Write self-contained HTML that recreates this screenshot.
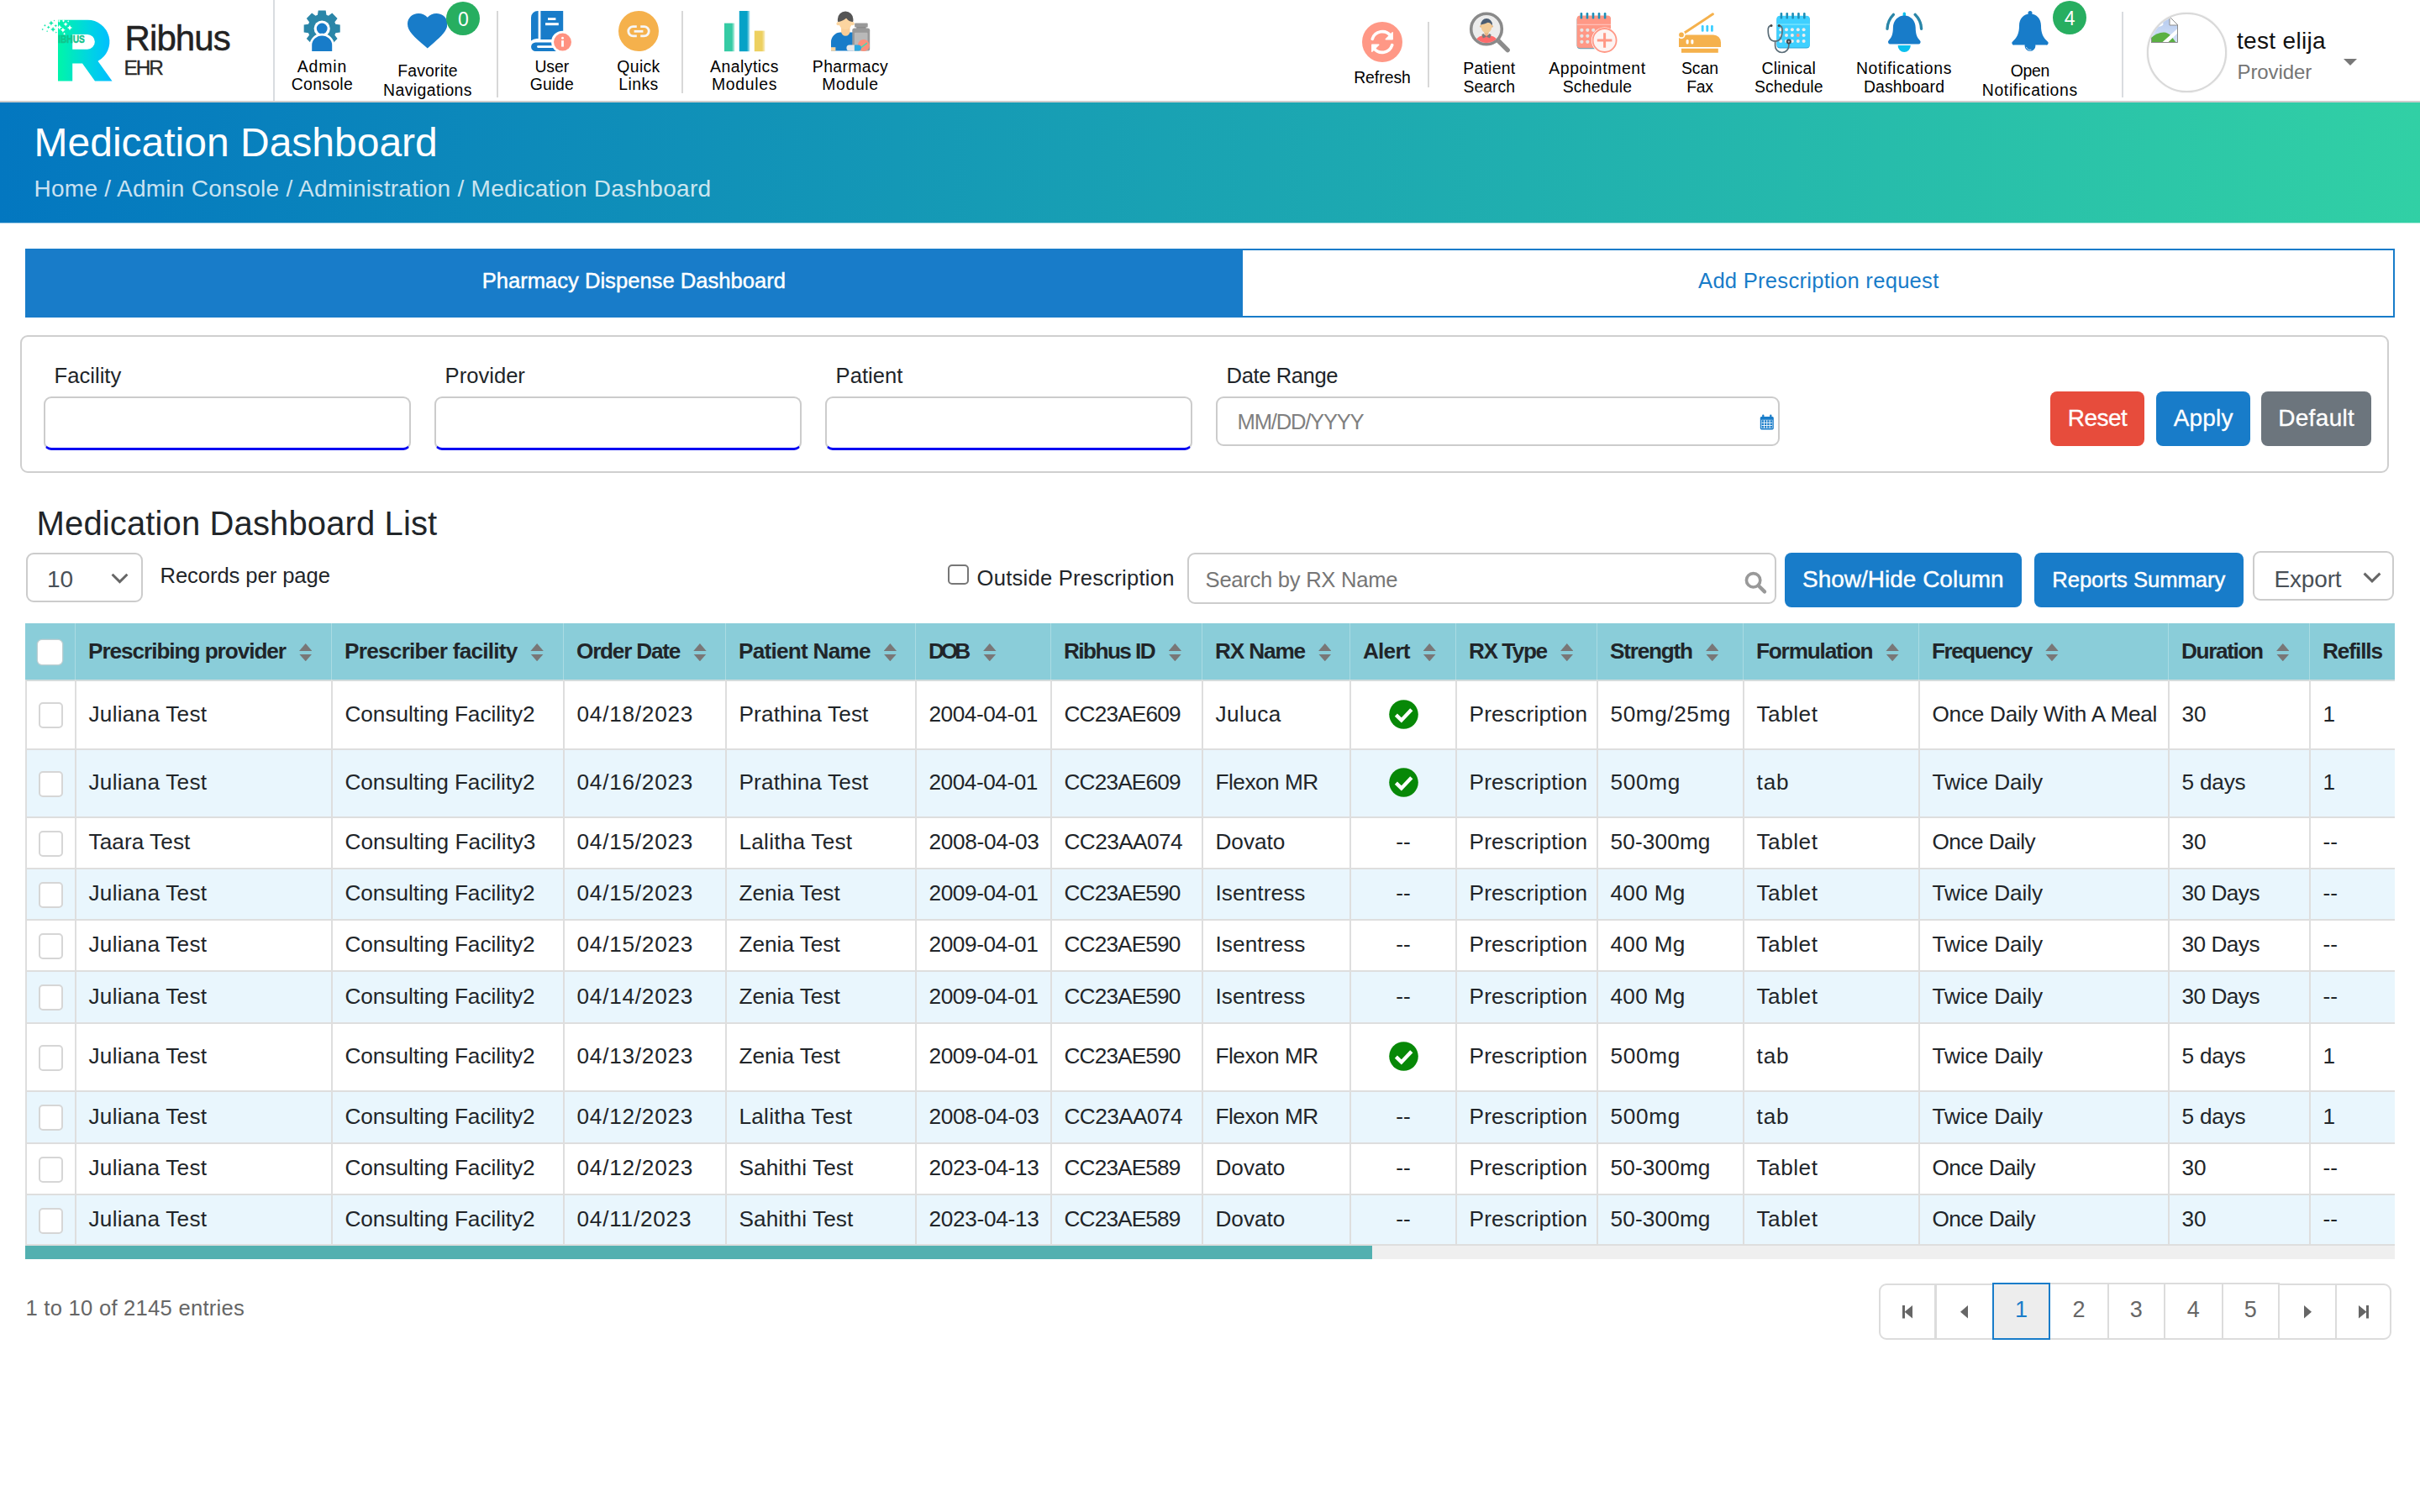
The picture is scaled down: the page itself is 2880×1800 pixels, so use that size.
<!DOCTYPE html><html lang="en"><head><meta charset="utf-8"><title>Medication Dashboard</title><style>
*{box-sizing:border-box}
html,body{margin:0;padding:0}
body{width:2880px;height:1800px;position:relative;overflow:hidden;background:#fff;font-family:"Liberation Sans", sans-serif;color:#212529}
@media (max-width:2000px){body{zoom:.5}}
.abs{position:absolute}
.sep{position:absolute;width:2px;background:#d8d8d8}
.inp{position:absolute;background:#fff;border:2px solid #ccc;border-radius:9px}
.inp.b{border-bottom:3.5px solid #0000f2}
.btn{position:absolute;border-radius:8px;color:#fff;text-align:center;white-space:nowrap}
table{position:absolute;left:30px;top:742px;width:2820px;border-collapse:separate;border-spacing:0;table-layout:fixed;font-size:26.2px}
th{background:#8acdd9;height:67px;font-size:26.2px;padding:0 0 0 15px;text-align:left;font-weight:700;border-left:1px solid rgba(255,255,255,.28);white-space:nowrap;overflow:hidden;position:relative;color:#212529}
th:first-child{border-left:none}
td{border-left:2px solid #dedede;border-top:2px solid #dedede;padding:0 0 0.8px 14.5px;white-space:nowrap;overflow:hidden;color:#212529;vertical-align:middle}
tr.e td{background:#e9f6fd}
tr.first td{border-top-color:#d3dcdc}
.cb{display:block;width:29px;height:31px;border:2px solid #d6d6d6;border-radius:5px;background:#fff;margin-left:1.5px}
.sort{display:inline-block;position:relative;width:15.4px;height:21.2px;margin-left:15.5px;vertical-align:-3.3px}
.sort:before{content:"";position:absolute;left:0;top:0;width:15.4px;height:8.8px;background:#797777;clip-path:polygon(50% 0,100% 100%,0 100%)}
.sort:after{content:"";position:absolute;left:0;bottom:0;width:15.4px;height:8.8px;background:#797777;clip-path:polygon(0 0,100% 0,50% 100%)}
.pg{position:absolute;top:1528px;height:67px;border:2px solid #dcdcdc;background:#fff;color:#666;font-size:27px;text-align:center;line-height:59px}
.navl{position:absolute;text-align:center;font-size:19.4px;color:#000;white-space:nowrap;width:200px}
</style></head><body>
<div class="abs" style="left:0;top:0;width:2880px;height:120px;background:#fff"></div>
<div class="abs" style="left:0;top:120px;width:2880px;height:2px;background:#cdcdcd"></div>
<svg style="position:absolute;left:48px;top:22px;overflow:visible" width="90" height="78" viewBox="0 0 90 78"><defs><linearGradient id="lg" x1="0" x2="1"><stop offset="0.05" stop-color="#00f3ad"/><stop offset="0.55" stop-color="#00d6e0"/><stop offset="0.95" stop-color="#00bfff"/></linearGradient></defs><path d="M21 1.8000000000000007 H56 A26 26 0 0 1 68.5 50.8 L85.5 74.5 H65 L50 53.599999999999994 H38.2 V74.5 H21 Z M38.2 19 V36.7 H56 A8.85 8.85 0 0 0 56 19 Z" fill="url(#lg)" fill-rule="evenodd"/><path d="M2.70 11.70 L3.12 12.58 L4.00 13.00 L3.12 13.42 L2.70 14.30 L2.28 13.42 L1.40 13.00 L2.28 12.58 Z" fill="#14e8aa"/><path d="M5.40 6.70 L5.88 7.72 L6.90 8.20 L5.88 8.68 L5.40 9.70 L4.92 8.68 L3.90 8.20 L4.92 7.72 Z" fill="#14e8aa"/><path d="M8.10 14.10 L8.45 14.85 L9.20 15.20 L8.45 15.55 L8.10 16.30 L7.75 15.55 L7.00 15.20 L7.75 14.85 Z" fill="#14e8aa"/><path d="M9.70 8.40 L10.34 9.76 L11.70 10.40 L10.34 11.04 L9.70 12.40 L9.06 11.04 L7.70 10.40 L9.06 9.76 Z" fill="#14e8aa"/><path d="M12.90 2.60 L13.83 4.57 L15.80 5.50 L13.83 6.43 L12.90 8.40 L11.97 6.43 L10.00 5.50 L11.97 4.57 Z" fill="#14e8aa"/><path d="M15.10 10.00 L16.06 12.04 L18.10 13.00 L16.06 13.96 L15.10 16.00 L14.14 13.96 L12.10 13.00 L14.14 12.04 Z" fill="#14e8aa"/><path d="M18.30 6.90 L18.88 8.12 L20.10 8.70 L18.88 9.28 L18.30 10.50 L17.72 9.28 L16.50 8.70 L17.72 8.12 Z" fill="#14e8aa"/><path d="M18.80 15.40 L19.18 16.22 L20.00 16.60 L19.18 16.98 L18.80 17.80 L18.42 16.98 L17.60 16.60 L18.42 16.22 Z" fill="#14e8aa"/><path d="M16.60 1.60 L16.92 2.28 L17.60 2.60 L16.92 2.92 L16.60 3.60 L16.28 2.92 L15.60 2.60 L16.28 2.28 Z" fill="#14e8aa"/><path d="M22.40 1.10 L23.01 2.39 L24.30 3.00 L23.01 3.61 L22.40 4.90 L21.79 3.61 L20.50 3.00 L21.79 2.39 Z" fill="#fff"/><path d="M22.80 7.30 L23.79 9.41 L25.90 10.40 L23.79 11.39 L22.80 13.50 L21.81 11.39 L19.70 10.40 L21.81 9.41 Z" fill="#fff"/><path d="M27.50 1.00 L28.11 2.29 L29.40 2.90 L28.11 3.51 L27.50 4.80 L26.89 3.51 L25.60 2.90 L26.89 2.29 Z" fill="#fff"/><path d="M30.10 4.20 L30.93 5.97 L32.70 6.80 L30.93 7.63 L30.10 9.40 L29.27 7.63 L27.50 6.80 L29.27 5.97 Z" fill="#fff"/><path d="M26.90 10.80 L27.86 12.84 L29.90 13.80 L27.86 14.76 L26.90 16.80 L25.94 14.76 L23.90 13.80 L25.94 12.84 Z" fill="#fff"/><path d="M35.00 7.80 L36.02 9.98 L38.20 11.00 L36.02 12.02 L35.00 14.20 L33.98 12.02 L31.80 11.00 L33.98 9.98 Z" fill="#fff"/><path d="M28.60 16.60 L29.11 17.69 L30.20 18.20 L29.11 18.71 L28.60 19.80 L28.09 18.71 L27.00 18.20 L28.09 17.69 Z" fill="#fff"/><path d="M33.20 2.10 L33.62 2.98 L34.50 3.40 L33.62 3.82 L33.20 4.70 L32.78 3.82 L31.90 3.40 L32.78 2.98 Z" fill="#fff"/><text x="21.200000000000003" y="28.6" font-family="Liberation Sans, sans-serif" font-weight="bold" font-size="13" fill="#12c48c" stroke="#12c48c" stroke-width="0.5" textLength="31.6" lengthAdjust="spacingAndGlyphs">IBHUS</text></svg>
<div style="position:absolute;top:18.15px;font-size:42px;line-height:55px;color:#222;white-space:nowrap;letter-spacing:-0.918px;left:148.6px;-webkit-text-stroke:0.5px #222;">Ribhus</div>
<div style="position:absolute;top:65.25px;font-size:24.4px;line-height:32px;color:#2a2a2a;white-space:nowrap;letter-spacing:-2.094px;left:147.6px;-webkit-text-stroke:0.3px #2a2a2a;">EHR</div>
<div class="sep" style="left:325px;top:0;height:120px;background:#d9dce0"></div>
<svg style="position:absolute;left:361px;top:12px;overflow:visible" width="45" height="50" viewBox="0 0 45 50"><path d="M16.95 5.83 L17.74 0.46 L26.66 0.46 L27.45 5.83 L29.92 6.85 L34.28 3.61 L40.59 9.92 L37.35 14.28 L38.37 16.75 L43.74 17.54 L43.74 26.46 L38.37 27.25 L37.35 29.72 L40.59 34.08 L34.28 40.39 L29.92 37.15 L27.45 38.17 L26.66 43.54 L17.74 43.54 L16.95 38.17 L14.48 37.15 L10.12 40.39 L3.81 34.08 L7.05 29.72 L6.03 27.25 L0.66 26.46 L0.66 17.54 L6.03 16.75 L7.05 14.28 L3.81 9.92 L10.12 3.61 L14.48 6.85Z" fill="#2a86a8"/><circle cx="22.2" cy="22.0" r="9.6" fill="#fff"/><circle cx="22.2" cy="22.0" r="6.4" fill="#187cc9"/><path d="M10.2 49 V42 a12 11.5 0 0 1 24 0 V49 Z" fill="#187cc9" stroke="#fff" stroke-width="5.4" paint-order="stroke"/><rect x="6.199999999999999" y="49" width="32" height="4" fill="#fff"/></svg>
<div style="position:absolute;top:67.28px;font-size:19.4px;line-height:25px;color:#000;white-space:nowrap;letter-spacing:0.866px;left:273.4px;width:220px;text-align:center;">Admin</div><div style="position:absolute;top:88.18px;font-size:19.4px;line-height:25px;color:#000;white-space:nowrap;letter-spacing:0.296px;left:273.4px;width:220px;text-align:center;">Console</div>
<svg style="position:absolute;left:484.5px;top:16px" width="47.5" height="41.5" viewBox="2 3 20 18.35" preserveAspectRatio="none"><path d="M12 21.35l-1.45-1.32C5.4 15.36 2 12.28 2 8.5 2 5.42 4.42 3 7.5 3c1.74 0 3.41.81 4.5 2.09C13.09 3.81 14.76 3 16.5 3 19.58 3 22 5.42 22 8.5c0 3.78-3.4 6.86-8.55 11.54L12 21.35z" fill="#187cc9"/></svg>
<div style="position:absolute;left:531.3px;top:1.6000000000000014px;width:40px;height:40px;border-radius:50%;background:#27ae60;color:#fff;font-size:23px;line-height:42.6px;text-align:center">0</div>
<div style="position:absolute;top:72.18px;font-size:19.4px;line-height:25px;color:#000;white-space:nowrap;letter-spacing:0.196px;left:399.0px;width:220px;text-align:center;">Favorite</div><div style="position:absolute;top:95.38px;font-size:19.4px;line-height:25px;color:#000;white-space:nowrap;letter-spacing:0.409px;left:399.0px;width:220px;text-align:center;">Navigations</div>
<div class="sep" style="left:590.5px;top:13px;height:103px"></div>
<svg style="position:absolute;left:632px;top:12.8px;overflow:visible" width="49" height="49" viewBox="0 0 49 49"><path d="M0 8 a8 8 0 0 1 8 -8 h0.6 v33 h-0.6 a10 10 0 0 0 -8 2.5 Z" fill="#187cc9"/><rect x="11.4" y="0" width="26.8" height="34" fill="#187cc9"/><rect x="20" y="8.2" width="9.4" height="2.8" fill="#fff"/><rect x="17" y="14.2" width="15.8" height="3" fill="#fff"/><path d="M5.4 37.4 h27 v10.7 h-27 a5.35 5.35 0 0 1 0 -10.7 Z" fill="#187cc9"/><rect x="7" y="41.2" width="22" height="2.8" rx="1.4" fill="#fff"/><circle cx="37.5" cy="37.1" r="13.4" fill="#fff"/><circle cx="37.5" cy="37.1" r="10.5" fill="#ff9281"/><circle cx="37.5" cy="32.3" r="1.5" fill="#fff"/><rect x="36.1" y="35.2" width="2.8" height="7.4" fill="#fff"/></svg>
<div style="position:absolute;top:67.28px;font-size:19.4px;line-height:25px;color:#000;white-space:nowrap;letter-spacing:-0.035px;left:546.8px;width:220px;text-align:center;">User</div><div style="position:absolute;top:88.18px;font-size:19.4px;line-height:25px;color:#000;white-space:nowrap;letter-spacing:0.021px;left:546.8px;width:220px;text-align:center;">Guide</div>
<svg style="position:absolute;left:736px;top:12.8px;overflow:visible" width="48" height="48" viewBox="0 0 48 48"><circle cx="24" cy="24" r="24" fill="#f5b14c"/><g fill="none" stroke="#f6f6f6" stroke-width="2.8" stroke-linecap="butt"><path d="M21.8 18.7 h-4.4 a5.6 5.6 0 0 0 0 11.2 h4.4"/><path d="M26.2 18.7 h4.4 a5.6 5.6 0 0 1 0 11.2 h-4.4"/><path d="M18.6 24.3 h10.8"/></g></svg>
<div style="position:absolute;top:67.28px;font-size:19.4px;line-height:25px;color:#000;white-space:nowrap;letter-spacing:0.341px;left:650.0px;width:220px;text-align:center;">Quick</div><div style="position:absolute;top:88.18px;font-size:19.4px;line-height:25px;color:#000;white-space:nowrap;letter-spacing:0.416px;left:650.0px;width:220px;text-align:center;">Links</div>
<div class="sep" style="left:811px;top:13px;height:98px"></div>
<svg style="position:absolute;left:862.2px;top:12.7px;overflow:visible" width="49" height="49" viewBox="0 0 49 49"><defs><linearGradient id="ga" x1="0" x2="1"><stop offset="0.72" stop-color="#35cba4"/><stop offset="1" stop-color="#35cba4" stop-opacity="0.25"/></linearGradient><linearGradient id="gb" x1="0" x2="1"><stop offset="0.72" stop-color="#05a2c7"/><stop offset="1" stop-color="#05a2c7" stop-opacity="0.25"/></linearGradient><linearGradient id="gc" x1="0" x2="1"><stop offset="0.72" stop-color="#edd060"/><stop offset="1" stop-color="#edd060" stop-opacity="0.35"/></linearGradient></defs><rect x="0" y="14.6" width="12.4" height="33.6" fill="url(#ga)"/><rect x="17.8" y="0" width="12.6" height="48.2" fill="url(#gb)"/><rect x="35.8" y="23.6" width="12.6" height="24.6" fill="url(#gc)"/></svg>
<div style="position:absolute;top:67.28px;font-size:19.4px;line-height:25px;color:#000;white-space:nowrap;letter-spacing:0.478px;left:776.0px;width:220px;text-align:center;">Analytics</div><div style="position:absolute;top:88.18px;font-size:19.4px;line-height:25px;color:#000;white-space:nowrap;letter-spacing:0.687px;left:776.0px;width:220px;text-align:center;">Modules</div>
<svg style="position:absolute;left:988px;top:12.5px;overflow:visible" width="48" height="49" viewBox="0 0 48 49"><path d="M1 47.6 V37 a11.4 11.4 0 0 1 11.4 -11.4 h15 V47.6 Z" fill="#187cc9"/><rect x="1" y="43.2" width="5.4" height="4.4" fill="#fcd5a0"/><path d="M13.1 17 h10.4 v7.6 a5.2 5.2 0 0 1 -10.4 0 Z" fill="#f9cd96"/><circle cx="9.6" cy="15.2" r="2.1" fill="#fcd5a0"/><circle cx="26.7" cy="15.2" r="2.1" fill="#fcd5a0"/><path d="M10.3 7 h15.6 v7.2 a7.8 7.8 0 0 1 -15.6 0 Z" fill="#fcd5a0"/><path d="M8.9 12.3 v-2.6 a9.25 9.25 0 0 1 18.500 0 v2.600 q-0.300 1 -1.100 0.600 q-4.600 -0.600 -6.800 -4 q-0.500 -0.400 -1 0.100 q-2.600 2.800 -8.400 3.900 q-0.900 0.400 -1.200 -0.600 Z" fill="#555"/><rect x="29.1" y="14.6" width="15.6" height="4.8" rx="1" fill="#999"/><rect x="31.2" y="19" width="11.4" height="2.4" fill="#8c8c8c"/><rect x="26.3" y="20.6" width="20.9" height="27" rx="2.600" fill="#999"/><rect x="28.900" y="25.800" width="15.600" height="21.800" rx="1" fill="#b9b9b9"/><circle cx="39.800" cy="41" r="7" fill="#fa907c"/><path d="M36.400 43.800 L44 38.200" stroke="#48d9b0" stroke-width="1.600"/><path d="M22.900 40.600 h6 v7 h-6 a3.500 3.500 0 0 1 0 -7 Z" fill="#e9e9e9"/><path d="M28.900 40.600 h4.600 a3.500 3.500 0 0 1 0 7 h-4.600 Z" fill="#2aa8e0"/></svg>
<div style="position:absolute;top:67.28px;font-size:19.4px;line-height:25px;color:#000;white-space:nowrap;letter-spacing:0.375px;left:902.0px;width:220px;text-align:center;">Pharmacy</div><div style="position:absolute;top:88.18px;font-size:19.4px;line-height:25px;color:#000;white-space:nowrap;letter-spacing:0.665px;left:902.0px;width:220px;text-align:center;">Module</div>
<svg style="position:absolute;left:1621px;top:25.6px;overflow:visible" width="48" height="48" viewBox="0 0 48 48"><circle cx="24" cy="24" r="24" fill="#ff9886"/><g fill="none" stroke="#fff" stroke-width="3.6" stroke-linecap="round"><path d="M12.2 20.4 A12.4 12.4 0 0 1 34 16.6"/><path d="M35.8 27.6 A12.4 12.4 0 0 1 14 31.4"/></g><path d="M36.2 12.800 v8 h-8 Z" fill="#fff" stroke="#fff" stroke-width="1.4" stroke-linejoin="round"/><path d="M11.800 35.200 v-8 h8 Z" fill="#fff" stroke="#fff" stroke-width="1.4" stroke-linejoin="round"/></svg>
<div style="position:absolute;top:80.28px;font-size:19.4px;line-height:25px;color:#000;white-space:nowrap;letter-spacing:-0.029px;left:1535.0px;width:220px;text-align:center;">Refresh</div>
<div class="sep" style="left:1699px;top:25.5px;height:78px"></div>
<svg style="position:absolute;left:1748px;top:14px;overflow:visible" width="50" height="50" viewBox="0 0 50 50"><defs><clipPath id="lens"><circle cx="21" cy="20.5" r="16.6"/></clipPath></defs><path d="M34.6 34 l11.6 11.6" stroke="#8b8b8b" stroke-width="5.4" stroke-linecap="round"/><path d="M32.4 31.8 l3.2 3.2" stroke="#9c9c9c" stroke-width="2.4"/><circle cx="21" cy="20.5" r="18.3" fill="#ececec" stroke="#8a8a8a" stroke-width="3.6"/><g clip-path="url(#lens)"><path d="M7 38 q1 -8 9 -9.6 l5 -1.4 l5 1.4 q8 1.6 9 9.6 Z" fill="#ff6b6b"/><path d="M17.4 26 l3.6 3.8 l3.6 -3.8 l2 1.2 l-1.4 4.4 l-4.2 -1.8 l-4.2 1.8 l-1.4 -4.4 Z" fill="#7a7a7a"/><path d="M18.4 21 h5.2 v5 l-2.6 3 l-2.6 -3 Z" fill="#e8b987"/><circle cx="14.6" cy="17.2" r="1.5" fill="#e8b987"/><circle cx="27.4" cy="17.2" r="1.5" fill="#e8b987"/><path d="M14.8 12 h12.4 v6.4 a6.2 6.8 0 0 1 -12.4 0 Z" fill="#f1cb98"/><path d="M14.2 15.4 a6.9 7.4 0 0 1 13.8 0 q-0.2 0.8 -0.8 0.2 q-1.4 -2.8 -4.4 -2.8 q-3.6 1.8 -7.6 2.4 q-0.8 0.8 -1 0.2 Z" fill="#4b5d73"/></g></svg>
<div style="position:absolute;top:69.18px;font-size:19.4px;line-height:25px;color:#000;white-space:nowrap;letter-spacing:0.259px;left:1662.3px;width:220px;text-align:center;">Patient</div><div style="position:absolute;top:90.98px;font-size:19.4px;line-height:25px;color:#000;white-space:nowrap;letter-spacing:-0.003px;left:1662.3px;width:220px;text-align:center;">Search</div>
<svg style="position:absolute;left:1876px;top:14.5px;overflow:visible" width="50" height="50" viewBox="0 0 50 50"><rect x="0.6" y="4.4" width="40.4" height="38.8" rx="4" fill="#5b9fb5"/><rect x="0.6" y="3.6" width="40.4" height="38.6" rx="4" fill="#ff9886"/><rect x="0.6" y="13.8" width="40.4" height="0.9" fill="#fdd" opacity="0.8"/><rect x="4.60" y="0" width="2.6" height="7.4" rx="1.2" fill="#1e8fb8"/><rect x="11.65" y="0" width="2.6" height="7.4" rx="1.2" fill="#1e8fb8"/><rect x="18.70" y="0" width="2.6" height="7.4" rx="1.2" fill="#1e8fb8"/><rect x="25.75" y="0" width="2.6" height="7.4" rx="1.2" fill="#1e8fb8"/><rect x="32.80" y="0" width="2.6" height="7.4" rx="1.2" fill="#1e8fb8"/><circle cx="6.4" cy="20.8" r="2.1" fill="#e6e6e6"/><circle cx="13.3" cy="20.8" r="2.1" fill="#e6e6e6"/><circle cx="20.2" cy="20.8" r="2.1" fill="#e6e6e6"/><circle cx="6.4" cy="27.8" r="2.1" fill="#e6e6e6"/><circle cx="13.3" cy="27.8" r="2.1" fill="#e6e6e6"/><circle cx="6.4" cy="34.8" r="2.1" fill="#e6e6e6"/><circle cx="13.3" cy="34.8" r="2.1" fill="#e6e6e6"/><circle cx="33.6" cy="33" r="15.6" fill="#fff"/><circle cx="33.6" cy="33" r="14" fill="#fdf4f3" stroke="#ff9886" stroke-width="1.8"/><path d="M33.6 24.2 v17.6 M24.8 33 h17.6" stroke="#ff9886" stroke-width="3"/></svg>
<div style="position:absolute;top:69.18px;font-size:19.4px;line-height:25px;color:#000;white-space:nowrap;letter-spacing:0.603px;left:1791.0px;width:220px;text-align:center;">Appointment</div><div style="position:absolute;top:90.98px;font-size:19.4px;line-height:25px;color:#000;white-space:nowrap;letter-spacing:0.222px;left:1791.0px;width:220px;text-align:center;">Schedule</div>
<svg style="position:absolute;left:1998px;top:14.6px;overflow:visible" width="51" height="48" viewBox="0 0 51 48"><path d="M3 26.6 L40.4 1.8" stroke="#f5b14c" stroke-width="3" stroke-linecap="round"/><path d="M0 26.4 h41 a9 9 0 0 1 9 9 v5.6 h-50 Z" fill="#f5b14c"/><circle cx="3" cy="26.6" r="4.6" fill="#fff"/><circle cx="3" cy="26.4" r="2.9" fill="#f5b14c"/><rect x="8.6" y="32" width="3" height="5.6" rx="1.5" fill="#fff"/><rect x="14.4" y="32" width="3" height="5.6" rx="1.5" fill="#fff"/><rect x="3" y="42.8" width="43.8" height="5" fill="#f5b14c"/><g fill="#3cceff"><rect x="26.8" y="15" width="2.8" height="7.8" rx="1.2"/><rect x="32.4" y="15" width="2.8" height="7.8" rx="1.2"/><rect x="38" y="15" width="2.8" height="7.8" rx="1.2"/></g></svg>
<div style="position:absolute;top:69.18px;font-size:19.4px;line-height:25px;color:#000;white-space:nowrap;letter-spacing:0.012px;left:1913.0px;width:220px;text-align:center;">Scan</div><div style="position:absolute;top:90.98px;font-size:19.4px;line-height:25px;color:#000;white-space:nowrap;letter-spacing:-0.193px;left:1913.0px;width:220px;text-align:center;">Fax</div>
<svg style="position:absolute;left:2103px;top:14.5px;overflow:visible" width="52" height="50" viewBox="0 0 52 50"><rect x="11.4" y="4.6" width="39.4" height="38" rx="4" fill="#2aa6d8"/><rect x="11.4" y="3.8" width="39.4" height="37.8" rx="4" fill="#3fd0ff"/><rect x="11.4" y="13.6" width="39.4" height="0.9" fill="#bff" opacity="0.7"/><rect x="15.60" y="0" width="2.6" height="7.4" rx="1.2" fill="#1e8fb8"/><rect x="22.45" y="0" width="2.6" height="7.4" rx="1.2" fill="#1e8fb8"/><rect x="29.30" y="0" width="2.6" height="7.4" rx="1.2" fill="#1e8fb8"/><rect x="36.15" y="0" width="2.6" height="7.4" rx="1.2" fill="#1e8fb8"/><rect x="43.00" y="0" width="2.6" height="7.4" rx="1.2" fill="#1e8fb8"/><circle cx="16.2" cy="20.2" r="2" fill="#eee"/><circle cx="23.0" cy="20.2" r="2" fill="#eee"/><circle cx="29.9" cy="20.2" r="2" fill="#eee"/><circle cx="36.8" cy="20.2" r="2" fill="#eee"/><circle cx="43.6" cy="20.2" r="2" fill="#eee"/><circle cx="16.2" cy="27.1" r="2" fill="#eee"/><circle cx="23.0" cy="27.1" r="2" fill="#eee"/><circle cx="29.9" cy="27.1" r="2" fill="#eee"/><circle cx="36.8" cy="27.1" r="2" fill="#ff9886"/><circle cx="43.6" cy="27.1" r="2" fill="#eee"/><circle cx="16.2" cy="34.0" r="2" fill="#eee"/><circle cx="23.0" cy="34.0" r="2" fill="#eee"/><circle cx="29.9" cy="34.0" r="2" fill="#eee"/><circle cx="36.8" cy="34.0" r="2" fill="#eee"/><circle cx="43.6" cy="34.0" r="2" fill="#eee"/><g fill="none" stroke="#5a6d78" stroke-width="1.7" stroke-linecap="round"><path d="M4.6 15.4 q-3.6 0.6 -3.4 5.6 q0 13 8.4 13 q8.4 0 8.4 -13 q0.2 -5 -3.4 -5.6"/><path d="M9.6 34 v5.4 a8.1 8.1 0 0 0 16.2 0 v-4.2"/></g><circle cx="5" cy="15.4" r="1.5" fill="#444"/><circle cx="14.2" cy="15.4" r="1.5" fill="#444"/><circle cx="25.8" cy="34.6" r="3" fill="#3d4a52"/><circle cx="25.8" cy="34.6" r="1.1" fill="#bbb"/></svg>
<div style="position:absolute;top:69.18px;font-size:19.4px;line-height:25px;color:#000;white-space:nowrap;letter-spacing:0.275px;left:2018.8000000000002px;width:220px;text-align:center;">Clinical</div><div style="position:absolute;top:90.98px;font-size:19.4px;line-height:25px;color:#000;white-space:nowrap;letter-spacing:0.079px;left:2018.8000000000002px;width:220px;text-align:center;">Schedule</div>
<svg style="position:absolute;left:2244px;top:14px;overflow:visible" width="45" height="49" viewBox="0 0 45 49"><rect x="20.6" y="0.4" width="3.4" height="6" rx="1.7" fill="#0bc0ee"/><path d="M14.6 40 h15.2 a7.6 8 0 0 1 -15.2 0 Z" fill="#0bc0ee"/><path d="M22.3 4.4 c7.6 0 13.4 6.2 13.4 14.4 c0 8 1.8 12 5.2 15.4 a2.6 2.6 0 0 1 -1.8 4.4 h-33.6 a2.6 2.6 0 0 1 -1.8 -4.4 c3.4 -3.4 5.2 -7.4 5.2 -15.4 c0 -8.200 5.800 -14.400 13.400 -14.400 Z" fill="#187cc9"/><g fill="none" stroke="#2a86a8" stroke-width="3.4" stroke-linecap="round"><path d="M9.4 3.4 q-7 7 -7.4 16.8"/><path d="M35.200 3.400 q7 7 7.400 16.800"/></g></svg>
<div style="position:absolute;top:69.28px;font-size:19.4px;line-height:25px;color:#000;white-space:nowrap;letter-spacing:0.649px;left:2156.0px;width:220px;text-align:center;">Notifications</div><div style="position:absolute;top:90.98px;font-size:19.4px;line-height:25px;color:#000;white-space:nowrap;letter-spacing:0.143px;left:2156.0px;width:220px;text-align:center;">Dashboard</div>
<svg style="position:absolute;left:2394px;top:13px;overflow:visible" width="44" height="49" viewBox="0 0 44 49"><circle cx="22" cy="41.4" r="6.4" fill="#187cc9"/><path d="M17.4 43 a4.8 4.8 0 0 0 6 3.200" fill="none" stroke="#cfe3f5" stroke-width="0.9"/><circle cx="22" cy="2.6" r="2.5" fill="#187cc9"/><path d="M22 3.4 c7.800 0 13 5.800 13 14.400 c0 9 2.600 14 7.600 18.400 a2.400 2.400 0 0 1 -1.600 4.400 h-38 a2.400 2.400 0 0 1 -1.600 -4.400 c5 -4.400 7.600 -9.400 7.600 -18.400 c0 -8.600 5.200 -14.400 13 -14.400 Z" fill="#187cc9"/></svg>
<div style="position:absolute;left:2443.2px;top:1.3999999999999986px;width:40px;height:40px;border-radius:50%;background:#27ae60;color:#fff;font-size:23px;line-height:42.6px;text-align:center">4</div>
<div style="position:absolute;top:71.98px;font-size:19.4px;line-height:25px;color:#000;white-space:nowrap;letter-spacing:-0.335px;left:2305.8px;width:220px;text-align:center;">Open</div><div style="position:absolute;top:94.88px;font-size:19.4px;line-height:25px;color:#000;white-space:nowrap;letter-spacing:0.649px;left:2305.8px;width:220px;text-align:center;">Notifications</div>
<div class="sep" style="left:2525px;top:14px;height:102px;background:#d9dce0"></div>
<div style="position:absolute;left:2554.500px;top:15px;width:95px;height:95px;border-radius:50%;border:2px solid #d9d9d9;background:#fff;overflow:hidden;box-shadow:0 0 1.500px rgba(0,0,0,.18)"><svg style="position:absolute;left:3.700px;top:3.100px" width="32" height="31" viewBox="0 0 32 31"><defs><linearGradient id="sky" x1="0" y1="0" x2="0" y2="1"><stop offset="0" stop-color="#b4c9ee"/><stop offset="1" stop-color="#d6e3f8"/></linearGradient></defs><path d="M0 0 h22 l10 10 v21 h-32 Z" fill="url(#sky)"/><ellipse cx="8.500" cy="8.600" rx="6" ry="3.200" fill="#fff" opacity=".95"/><path d="M0 31 v-6 q7 -6.500 15 -6.500 q5 0 9 4.500 l6 8 Z" fill="#5bb043"/><path d="M12.500 31 L32 13.500 v5.500 L19.500 31 Z" fill="#fff"/><path d="M22 0 l10 10 h-10 Z" fill="#fdfdfd" stroke="#8d8d8d" stroke-width="1" stroke-linejoin="round"/><path d="M0.5 8 V30.500 H31.500 V10" fill="none" stroke="#8a8a8a" stroke-width="1"/></svg></div>
<div style="position:absolute;top:31.10px;font-size:28px;line-height:36px;color:#111;white-space:nowrap;letter-spacing:0.32px;left:2662px;">test elija</div>
<div style="position:absolute;top:70.48px;font-size:24px;line-height:31px;color:#757575;white-space:nowrap;letter-spacing:-0.082px;left:2662.5px;">Provider</div>
<div class="abs" style="left:2789px;top:70px;width:0;height:0;border:8.5px solid transparent;border-bottom-width:0;border-top:8.5px solid #777"></div>
<div class="abs" style="left:0;top:122px;width:2880px;height:143px;background:linear-gradient(90deg,#0377c0 0%,#31d0a5 100%)"></div><div class="abs" style="left:0;top:265px;width:2880px;height:1px;opacity:.4;background:linear-gradient(90deg,#0377c0 0%,#31d0a5 100%)"></div>
<div style="position:absolute;top:139.27px;font-size:48px;line-height:62px;color:#fff;white-space:nowrap;left:40.5px;">Medication Dashboard</div>
<div style="position:absolute;top:207.20px;font-size:28px;line-height:36px;color:rgba(255,255,255,.8);white-space:nowrap;letter-spacing:0.28px;left:40.5px;">Home / Admin Console / Administration / Medication Dashboard</div>
<div class="abs" style="left:30px;top:296px;width:1449px;height:82px;background:#187cc9"></div>
<div class="abs" style="left:1479px;top:296px;width:1371px;height:82px;background:#fff;border:2px solid #187cc9;border-left:none"></div>
<div style="position:absolute;top:318.33px;font-size:25.6px;line-height:33px;color:#fff;white-space:nowrap;left:454.29999999999995px;width:600px;text-align:center;-webkit-text-stroke:0.45px #fff;">Pharmacy Dispense Dashboard</div>
<div style="position:absolute;top:318.33px;font-size:25.6px;line-height:33px;color:#187cc9;white-space:nowrap;letter-spacing:0.26px;left:1864.3000000000002px;width:600px;text-align:center;">Add Prescription request</div>
<div class="abs" style="left:24px;top:399px;width:2819px;height:164px;border:2px solid #cfcfcf;border-radius:9px;background:#fff"></div>
<div style="position:absolute;top:431.13px;font-size:25.6px;line-height:33px;color:#212529;white-space:nowrap;left:64.6px;">Facility</div>
<div class="inp b" style="left:52px;top:472px;width:437px;height:64px"></div>
<div style="position:absolute;top:431.13px;font-size:25.6px;line-height:33px;color:#212529;white-space:nowrap;left:529.6px;">Provider</div>
<div class="inp b" style="left:517px;top:472px;width:437px;height:64px"></div>
<div style="position:absolute;top:431.13px;font-size:25.6px;line-height:33px;color:#212529;white-space:nowrap;left:994.6px;">Patient</div>
<div class="inp b" style="left:982px;top:472px;width:437px;height:64px"></div>
<div style="position:absolute;top:431.13px;font-size:25.6px;line-height:33px;color:#212529;white-space:nowrap;letter-spacing:-0.412px;left:1459.6px;">Date Range</div>
<div class="inp" style="left:1447px;top:472px;width:671px;height:59px"></div>
<div style="position:absolute;top:486.03px;font-size:25.6px;line-height:33px;color:#808080;white-space:nowrap;letter-spacing:-1.226px;left:1472.6px;">MM/DD/YYYY</div>
<svg style="position:absolute;left:2094px;top:493px;overflow:visible" width="18" height="19" viewBox="0 0 18 19"><rect x="0.8" y="3" width="16" height="15.4" rx="1.6" fill="#187cc9"/><rect x="3.2" y="0.4" width="2.2" height="4.6" rx="1" fill="#187cc9"/><rect x="12.200" y="0.4" width="2.2" height="4.6" rx="1" fill="#187cc9"/><rect x="2.2" y="6.8" width="13.2" height="10.2" fill="#fff"/><rect x="2.65" y="7.25" width="2.4" height="2.5" fill="#187cc9"/><rect x="5.95" y="7.25" width="2.4" height="2.5" fill="#187cc9"/><rect x="9.25" y="7.25" width="2.4" height="2.5" fill="#187cc9"/><rect x="12.55" y="7.25" width="2.4" height="2.5" fill="#187cc9"/><rect x="2.65" y="10.65" width="2.4" height="2.5" fill="#187cc9"/><rect x="5.95" y="10.65" width="2.4" height="2.5" fill="#187cc9"/><rect x="9.25" y="10.65" width="2.4" height="2.5" fill="#187cc9"/><rect x="12.55" y="10.65" width="2.4" height="2.5" fill="#187cc9"/><rect x="2.65" y="14.05" width="2.4" height="2.5" fill="#187cc9"/><rect x="5.95" y="14.05" width="2.4" height="2.5" fill="#187cc9"/><rect x="9.25" y="14.05" width="2.4" height="2.5" fill="#187cc9"/><rect x="12.55" y="14.05" width="2.4" height="2.5" fill="#187cc9"/></svg>
<div class="btn" style="left:2440px;top:465.8px;width:112px;height:65.2px;background:#e74c3c"></div>
<div style="position:absolute;top:480.20px;font-size:28px;line-height:36px;color:#fff;white-space:nowrap;letter-spacing:-0.511px;left:2396.0px;width:200px;text-align:center;-webkit-text-stroke:0.3px #fff;">Reset</div>
<div class="btn" style="left:2566px;top:465.8px;width:112.3px;height:65.2px;background:#187cc9"></div>
<div style="position:absolute;top:480.20px;font-size:28px;line-height:36px;color:#fff;white-space:nowrap;letter-spacing:0.164px;left:2522.15px;width:200px;text-align:center;-webkit-text-stroke:0.3px #fff;">Apply</div>
<div class="btn" style="left:2691px;top:465.8px;width:131.4px;height:65.2px;background:#6c757d"></div>
<div style="position:absolute;top:480.20px;font-size:28px;line-height:36px;color:#fff;white-space:nowrap;letter-spacing:0.33px;left:2656.7px;width:200px;text-align:center;-webkit-text-stroke:0.3px #fff;">Default</div>
<div style="position:absolute;top:596.54px;font-size:40px;line-height:52px;color:#212529;white-space:nowrap;letter-spacing:0.125px;left:43.6px;">Medication Dashboard List</div>
<div class="inp" style="left:31px;top:658px;width:138.5px;height:58.5px;border-radius:9px"></div>
<div style="position:absolute;top:672.20px;font-size:28px;line-height:36px;color:#495057;white-space:nowrap;left:56px;">10</div>
<svg style="position:absolute;left:132px;top:681.5px;overflow:visible" width="21" height="13" viewBox="0 0 21 13"><path d="M1.6 1.8 L10.5 10.6 L19.4 1.8" fill="none" stroke="#666" stroke-width="3"/></svg>
<div style="position:absolute;top:669.33px;font-size:25.6px;line-height:33px;color:#212529;white-space:nowrap;letter-spacing:-0.072px;left:190.5px;">Records per page</div>
<div class="abs" style="left:1128px;top:671.6px;width:24.5px;height:24.5px;border:2px solid #767676;border-radius:5px;background:#fff"></div>
<div style="position:absolute;top:672.33px;font-size:25.6px;line-height:33px;color:#212529;white-space:nowrap;letter-spacing:0.232px;left:1162.6px;">Outside Prescription</div>
<div class="inp" style="left:1413px;top:658px;width:700.5px;height:60.5px"></div>
<div style="position:absolute;top:673.53px;font-size:25.6px;line-height:33px;color:#767676;white-space:nowrap;letter-spacing:-0.277px;left:1434.6px;">Search by RX Name</div>
<svg style="position:absolute;left:2076px;top:680px;overflow:visible" width="27" height="27" viewBox="0 0 27 27"><circle cx="10.6" cy="10.800" r="8.2" fill="none" stroke="#999" stroke-width="3.6"/><path d="M16.800 17.200 L24 24.400" stroke="#999" stroke-width="4.4" stroke-linecap="round"/></svg>
<div class="btn" style="left:2123.5px;top:657.5px;width:282.5px;height:65px;background:#187cc9"></div>
<div style="position:absolute;top:672.20px;font-size:28px;line-height:36px;color:#fff;white-space:nowrap;left:2104.8px;width:320px;text-align:center;-webkit-text-stroke:0.4px #fff;">Show/Hide Column</div>
<div class="btn" style="left:2421px;top:657.5px;width:249px;height:65px;background:#187cc9"></div>
<div style="position:absolute;top:673.73px;font-size:25.6px;line-height:33px;color:#fff;white-space:nowrap;left:2385.3px;width:320px;text-align:center;-webkit-text-stroke:0.45px #fff;">Reports Summary</div>
<div class="inp" style="left:2680.5px;top:656px;width:168.5px;height:58.5px"></div>
<div style="position:absolute;top:671.60px;font-size:28px;line-height:36px;color:#495057;white-space:nowrap;letter-spacing:-0.165px;left:2706.5px;">Export</div>
<svg style="position:absolute;left:2812px;top:680.6px;overflow:visible" width="22" height="13" viewBox="0 0 22 13"><path d="M1.6 1.6 L11 10.800 L20.400 1.6" fill="none" stroke="#666" stroke-width="3"/></svg>
<table><colgroup><col style="width:59px"><col style="width:305px"><col style="width:276px"><col style="width:193px"><col style="width:226px"><col style="width:161px"><col style="width:180px"><col style="width:176px"><col style="width:126px"><col style="width:168px"><col style="width:174px"><col style="width:209px"><col style="width:297px"><col style="width:168px"><col style="width:102px"></colgroup><thead><tr>
<th style="padding:0"><span style="display:block;width:29px;height:29px;border-radius:5px;background:#fff;box-shadow:0 0 0 1.3px rgba(205,205,205,.75);margin:2px 0 0 15.3px"></span></th>
<th><span style="letter-spacing:-1.059px">Prescribing provider</span><span class="sort" style="margin-left:16.06px"></span></th>
<th><span style="letter-spacing:-0.744px">Prescriber facility</span><span class="sort" style="margin-left:15.74px"></span></th>
<th><span style="letter-spacing:-1.232px">Order Date</span><span class="sort" style="margin-left:16.23px"></span></th>
<th><span style="letter-spacing:-0.751px">Patient Name</span><span class="sort" style="margin-left:15.75px"></span></th>
<th><span style="letter-spacing:-4.045px">DOB</span><span class="sort" style="margin-left:19.05px"></span></th>
<th><span style="letter-spacing:-1.567px">Ribhus ID</span><span class="sort" style="margin-left:16.57px"></span></th>
<th><span style="letter-spacing:-1.151px">RX Name</span><span class="sort" style="margin-left:16.15px"></span></th>
<th><span style="letter-spacing:-0.791px">Alert</span><span class="sort" style="margin-left:15.79px"></span></th>
<th><span style="letter-spacing:-1.459px">RX Type</span><span class="sort" style="margin-left:16.46px"></span></th>
<th><span style="letter-spacing:-1.225px">Strength</span><span class="sort" style="margin-left:16.23px"></span></th>
<th><span style="letter-spacing:-1.184px">Formulation</span><span class="sort" style="margin-left:16.18px"></span></th>
<th><span style="letter-spacing:-1.521px">Frequency</span><span class="sort" style="margin-left:16.52px"></span></th>
<th><span style="letter-spacing:-1.368px">Duration</span><span class="sort" style="margin-left:16.37px"></span></th>
<th><span style="letter-spacing:-1.083px">Refills</span><span class="sort" style="margin-left:16.08px"></span></th>
</tr></thead><tbody>
<tr class="t first" style="height:81.5px"><td style="padding:2.4px 0 0 12.6px"><span class="cb"></span></td>
<td style="letter-spacing:0.244px">Juliana Test</td>
<td style="letter-spacing:-0.053px">Consulting Facility2</td>
<td style="letter-spacing:0.759px">04/18/2023</td>
<td style="letter-spacing:0.127px">Prathina Test</td>
<td style="letter-spacing:-0.451px">2004-04-01</td>
<td style="letter-spacing:-0.811px">CC23AE609</td>
<td style="letter-spacing:0.446px">Juluca</td>
<td style="padding:0 0 1px 0"><svg width="35" height="35" viewBox="0 0 35 35" style="display:block;margin:0 auto"><circle cx="17.5" cy="17.5" r="17.3" fill="#078807"/><path d="M8.4 18.2 L14.800 24.400 L26.800 11.800" fill="none" stroke="#fff" stroke-width="4.4"/></svg></td>
<td style="letter-spacing:0.203px">Prescription</td>
<td style="letter-spacing:0.576px">50mg/25mg</td>
<td style="letter-spacing:0.51px">Tablet</td>
<td style="letter-spacing:-0.275px">Once Daily With A Meal</td>
<td style="letter-spacing:0.022px">30</td>
<td>1</td>
</tr>
<tr class="t e" style="height:81.5px"><td style="padding:2.4px 0 0 12.6px"><span class="cb"></span></td>
<td style="letter-spacing:0.244px">Juliana Test</td>
<td style="letter-spacing:-0.053px">Consulting Facility2</td>
<td style="letter-spacing:0.759px">04/16/2023</td>
<td style="letter-spacing:0.127px">Prathina Test</td>
<td style="letter-spacing:-0.451px">2004-04-01</td>
<td style="letter-spacing:-0.811px">CC23AE609</td>
<td style="letter-spacing:-0.5px">Flexon MR</td>
<td style="padding:0 0 1px 0"><svg width="35" height="35" viewBox="0 0 35 35" style="display:block;margin:0 auto"><circle cx="17.5" cy="17.5" r="17.3" fill="#078807"/><path d="M8.4 18.2 L14.800 24.400 L26.800 11.800" fill="none" stroke="#fff" stroke-width="4.4"/></svg></td>
<td style="letter-spacing:0.203px">Prescription</td>
<td style="letter-spacing:0.663px">500mg</td>
<td style="letter-spacing:0.871px">tab</td>
<td style="letter-spacing:-0.082px">Twice Daily</td>
<td style="letter-spacing:-0.206px">5 days</td>
<td>1</td>
</tr>
<tr class="s" style="height:60.5px"><td style="padding:2.4px 0 0 12.6px"><span class="cb"></span></td>
<td style="letter-spacing:0.052px">Taara Test</td>
<td style="letter-spacing:-0.011px">Consulting Facility3</td>
<td style="letter-spacing:0.759px">04/15/2023</td>
<td style="letter-spacing:0.236px">Lalitha Test</td>
<td style="letter-spacing:-0.296px">2008-04-03</td>
<td style="letter-spacing:-0.561px">CC23AA074</td>
<td style="letter-spacing:-0.05px">Dovato</td>
<td style="padding:0 0 0.8px 0;text-align:center">--</td>
<td style="letter-spacing:0.203px">Prescription</td>
<td style="letter-spacing:0.14px">50-300mg</td>
<td style="letter-spacing:0.51px">Tablet</td>
<td style="letter-spacing:-0.541px">Once Daily</td>
<td style="letter-spacing:0.022px">30</td>
<td>--</td>
</tr>
<tr class="s e" style="height:61.0px"><td style="padding:2.4px 0 0 12.6px"><span class="cb"></span></td>
<td style="letter-spacing:0.244px">Juliana Test</td>
<td style="letter-spacing:-0.053px">Consulting Facility2</td>
<td style="letter-spacing:0.759px">04/15/2023</td>
<td style="letter-spacing:-0.015px">Zenia Test</td>
<td style="letter-spacing:-0.407px">2009-04-01</td>
<td style="letter-spacing:-0.836px">CC23AE590</td>
<td style="letter-spacing:0.083px">Isentress</td>
<td style="padding:0 0 0.8px 0;text-align:center">--</td>
<td style="letter-spacing:0.203px">Prescription</td>
<td style="letter-spacing:0.295px">400 Mg</td>
<td style="letter-spacing:0.51px">Tablet</td>
<td style="letter-spacing:-0.082px">Twice Daily</td>
<td style="letter-spacing:-0.508px">30 Days</td>
<td>--</td>
</tr>
<tr class="s" style="height:61.5px"><td style="padding:2.4px 0 0 12.6px"><span class="cb"></span></td>
<td style="letter-spacing:0.244px">Juliana Test</td>
<td style="letter-spacing:-0.053px">Consulting Facility2</td>
<td style="letter-spacing:0.759px">04/15/2023</td>
<td style="letter-spacing:-0.015px">Zenia Test</td>
<td style="letter-spacing:-0.407px">2009-04-01</td>
<td style="letter-spacing:-0.836px">CC23AE590</td>
<td style="letter-spacing:0.083px">Isentress</td>
<td style="padding:0 0 0.8px 0;text-align:center">--</td>
<td style="letter-spacing:0.203px">Prescription</td>
<td style="letter-spacing:0.295px">400 Mg</td>
<td style="letter-spacing:0.51px">Tablet</td>
<td style="letter-spacing:-0.082px">Twice Daily</td>
<td style="letter-spacing:-0.508px">30 Days</td>
<td>--</td>
</tr>
<tr class="s e" style="height:61.5px"><td style="padding:2.4px 0 0 12.6px"><span class="cb"></span></td>
<td style="letter-spacing:0.244px">Juliana Test</td>
<td style="letter-spacing:-0.053px">Consulting Facility2</td>
<td style="letter-spacing:0.759px">04/14/2023</td>
<td style="letter-spacing:-0.015px">Zenia Test</td>
<td style="letter-spacing:-0.407px">2009-04-01</td>
<td style="letter-spacing:-0.836px">CC23AE590</td>
<td style="letter-spacing:0.083px">Isentress</td>
<td style="padding:0 0 0.8px 0;text-align:center">--</td>
<td style="letter-spacing:0.203px">Prescription</td>
<td style="letter-spacing:0.295px">400 Mg</td>
<td style="letter-spacing:0.51px">Tablet</td>
<td style="letter-spacing:-0.082px">Twice Daily</td>
<td style="letter-spacing:-0.508px">30 Days</td>
<td>--</td>
</tr>
<tr class="t" style="height:81.5px"><td style="padding:2.4px 0 0 12.6px"><span class="cb"></span></td>
<td style="letter-spacing:0.244px">Juliana Test</td>
<td style="letter-spacing:-0.053px">Consulting Facility2</td>
<td style="letter-spacing:0.759px">04/13/2023</td>
<td style="letter-spacing:-0.015px">Zenia Test</td>
<td style="letter-spacing:-0.407px">2009-04-01</td>
<td style="letter-spacing:-0.836px">CC23AE590</td>
<td style="letter-spacing:-0.5px">Flexon MR</td>
<td style="padding:0 0 1px 0"><svg width="35" height="35" viewBox="0 0 35 35" style="display:block;margin:0 auto"><circle cx="17.5" cy="17.5" r="17.3" fill="#078807"/><path d="M8.4 18.2 L14.800 24.400 L26.800 11.800" fill="none" stroke="#fff" stroke-width="4.4"/></svg></td>
<td style="letter-spacing:0.203px">Prescription</td>
<td style="letter-spacing:0.663px">500mg</td>
<td style="letter-spacing:0.871px">tab</td>
<td style="letter-spacing:-0.082px">Twice Daily</td>
<td style="letter-spacing:-0.206px">5 days</td>
<td>1</td>
</tr>
<tr class="s e" style="height:61.5px"><td style="padding:2.4px 0 0 12.6px"><span class="cb"></span></td>
<td style="letter-spacing:0.244px">Juliana Test</td>
<td style="letter-spacing:-0.053px">Consulting Facility2</td>
<td style="letter-spacing:0.759px">04/12/2023</td>
<td style="letter-spacing:0.236px">Lalitha Test</td>
<td style="letter-spacing:-0.296px">2008-04-03</td>
<td style="letter-spacing:-0.561px">CC23AA074</td>
<td style="letter-spacing:-0.5px">Flexon MR</td>
<td style="padding:0 0 0.8px 0;text-align:center">--</td>
<td style="letter-spacing:0.203px">Prescription</td>
<td style="letter-spacing:0.663px">500mg</td>
<td style="letter-spacing:0.871px">tab</td>
<td style="letter-spacing:-0.082px">Twice Daily</td>
<td style="letter-spacing:-0.206px">5 days</td>
<td>1</td>
</tr>
<tr class="s" style="height:61.0px"><td style="padding:2.4px 0 0 12.6px"><span class="cb"></span></td>
<td style="letter-spacing:0.244px">Juliana Test</td>
<td style="letter-spacing:-0.053px">Consulting Facility2</td>
<td style="letter-spacing:0.759px">04/12/2023</td>
<td style="letter-spacing:0.081px">Sahithi Test</td>
<td style="letter-spacing:-0.296px">2023-04-13</td>
<td style="letter-spacing:-0.836px">CC23AE589</td>
<td style="letter-spacing:-0.05px">Dovato</td>
<td style="padding:0 0 0.8px 0;text-align:center">--</td>
<td style="letter-spacing:0.203px">Prescription</td>
<td style="letter-spacing:0.14px">50-300mg</td>
<td style="letter-spacing:0.51px">Tablet</td>
<td style="letter-spacing:-0.541px">Once Daily</td>
<td style="letter-spacing:0.022px">30</td>
<td>--</td>
</tr>
<tr class="s e" style="height:61.0px"><td style="padding:2.4px 0 0 12.6px"><span class="cb"></span></td>
<td style="letter-spacing:0.244px">Juliana Test</td>
<td style="letter-spacing:-0.053px">Consulting Facility2</td>
<td style="letter-spacing:0.759px">04/11/2023</td>
<td style="letter-spacing:0.081px">Sahithi Test</td>
<td style="letter-spacing:-0.296px">2023-04-13</td>
<td style="letter-spacing:-0.836px">CC23AE589</td>
<td style="letter-spacing:-0.05px">Dovato</td>
<td style="padding:0 0 0.8px 0;text-align:center">--</td>
<td style="letter-spacing:0.203px">Prescription</td>
<td style="letter-spacing:0.14px">50-300mg</td>
<td style="letter-spacing:0.51px">Tablet</td>
<td style="letter-spacing:-0.541px">Once Daily</td>
<td style="letter-spacing:0.022px">30</td>
<td>--</td>
</tr>
</tbody></table>
<div class="abs" style="left:30px;top:1481px;width:2820px;height:2px;background:#dedede"></div>
<div class="abs" style="left:30px;top:1483px;width:2820px;height:16px;background:#efefef"></div>
<div class="abs" style="left:30px;top:1483px;width:1603px;height:16px;background:#52b0b0"></div>
<div style="position:absolute;top:1540.73px;font-size:25.6px;line-height:33px;color:#666;white-space:nowrap;letter-spacing:0.252px;left:30.5px;">1 to 10 of 2145 entries</div>
<div class="pg" style="left:2235.7px;width:68.3px;border-radius:9px 0 0 9px;"></div>
<svg style="position:absolute;left:2263.7499999999995px;top:1554px;overflow:visible" width="12" height="15.5" viewBox="0 0 12 15.5"><rect x="0" y="0" width="3" height="15.5" fill="#666"/><path d="M12 0 L2.600 7.75 L12 15.5 Z" fill="#666"/></svg>
<div class="pg" style="left:2302.6px;width:70.6px;"></div>
<svg style="position:absolute;left:2332.4999999999995px;top:1554px;overflow:visible" width="9" height="15.5" viewBox="0 0 9 15.5"><path d="M9 0 L0 7.75 L9 15.5 Z" fill="#666"/></svg>
<div class="pg" style="left:2371.2px;width:68.9px;top:1526.6px;height:68.4px;line-height:60.4px;background:#ededed;border-color:#187cc9;color:#187cc9;z-index:2;">1</div>
<div class="pg" style="left:2438.1px;width:71.7px;top:1526.6px;height:68.4px;line-height:60.4px;">2</div>
<div class="pg" style="left:2507.8px;width:69.1px;top:1526.6px;height:68.4px;line-height:60.4px;">3</div>
<div class="pg" style="left:2574.9px;width:70.9px;top:1526.6px;height:68.4px;line-height:60.4px;">4</div>
<div class="pg" style="left:2643.8px;width:68.9px;top:1526.6px;height:68.4px;line-height:60.4px;">5</div>
<div class="pg" style="left:2710.7px;width:70.3px;"></div>
<svg style="position:absolute;left:2742.25px;top:1554px;overflow:visible" width="9" height="15.5" viewBox="0 0 9 15.5"><path d="M0 0 L9 7.75 L0 15.5 Z" fill="#666"/></svg>
<div class="pg" style="left:2779.0px;width:66.7px;border-radius:0 9px 9px 0;"></div>
<svg style="position:absolute;left:2806.5499999999997px;top:1554px;overflow:visible" width="12" height="15.5" viewBox="0 0 12 15.5"><rect x="9" y="0" width="3" height="15.5" fill="#666"/><path d="M0 0 L9.400 7.75 L0 15.5 Z" fill="#666"/></svg>
</body></html>
